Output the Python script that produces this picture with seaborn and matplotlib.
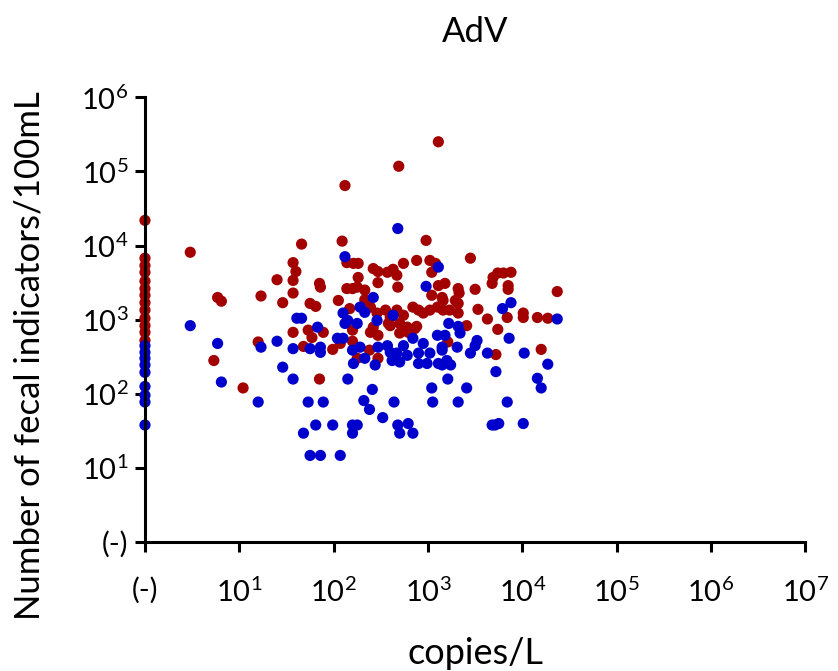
import numpy as np
import pandas as pd
import seaborn as sns
import matplotlib.pyplot as plt

# values are log10 of copies/L (x) and fecal indicators/100mL (y);
# 0 on either axis stands for "(-)" (not detected)

red_x = [0, 0, 0, 0, 0, 0, 0, 0, 0, 0, 0, 0, 0,
         3.11, 2.69, 2.12, 0.48, 0.77, 0.81, 1.23, 1.40, 1.46, 0.73, 1.04, 1.20,
         1.66, 2.09, 2.98, 1.57, 1.60, 1.57, 1.57, 1.85, 1.86, 1.75, 1.81, 2.05,
         2.14, 2.21, 2.26, 2.26, 2.14, 2.20, 2.25, 2.33, 2.33, 2.17, 2.42, 2.47,
         2.57, 2.63, 2.67, 2.74, 2.47, 2.68, 2.88, 3.02, 3.08, 3.04, 3.11, 3.18,
         3.04, 3.15, 2.39, 2.46, 2.55, 2.60, 2.67, 2.74, 2.84, 2.90, 2.95, 3.02,
         3.10, 3.16, 2.42, 2.60, 2.78, 2.88, 1.57, 1.73, 1.77, 1.89, 1.68, 1.99,
         2.07, 2.20, 2.20, 2.25, 2.39, 2.47, 2.38, 2.47, 2.58, 2.70, 2.70, 2.79,
         2.86, 1.85, 3.21, 3.45, 3.69, 3.74, 3.80, 3.88, 3.68, 3.85, 3.85, 4.37,
         3.50, 3.32, 3.33, 3.16, 3.29, 3.32, 3.23, 3.32, 3.53, 3.63, 3.84, 4.01,
         4.01, 4.16, 4.27, 3.41, 3.74, 3.72, 4.20]
red_y = [4.34, 3.83, 3.73, 3.64, 3.52, 3.42, 3.33, 3.23, 3.13, 3.02, 2.92, 2.83, 2.72,
         5.40, 5.07, 4.81, 3.91, 3.30, 3.25, 3.32, 3.54, 3.23, 2.45, 2.08, 2.70,
         4.02, 4.06, 4.07, 3.77, 3.65, 3.53, 3.36, 3.49, 3.44, 3.22, 3.18, 3.26,
         3.77, 3.76, 3.76, 3.57, 3.42, 3.42, 3.44, 3.40, 3.27, 3.15, 3.69, 3.65,
         3.64, 3.68, 3.60, 3.76, 3.50, 3.44, 3.80, 3.80, 3.76, 3.64, 3.46, 3.49,
         3.33, 3.30, 3.17, 3.09, 3.13, 3.03, 3.13, 3.06, 3.17, 3.13, 3.09, 3.13,
         3.17, 3.13, 2.90, 2.92, 2.90, 2.91, 2.83, 2.86, 2.76, 2.83, 2.64, 2.60,
         2.68, 2.86, 2.71, 2.48, 2.83, 2.79, 2.59, 2.48, 2.95, 2.95, 2.82, 2.83,
         2.88, 2.20, 2.70, 3.83, 3.57, 3.63, 3.63, 3.64, 3.49, 3.46, 3.41, 3.38,
         3.41, 3.42, 3.36, 3.26, 3.26, 3.22, 3.13, 3.09, 3.14, 3.01, 3.03, 3.09,
         3.03, 3.03, 3.02, 2.92, 2.87, 2.53, 2.60]

blue_x = [0, 0, 0, 0, 0, 0, 0, 0, 0,
          2.68, 0.48, 0.77, 0.81, 1.23, 1.20, 1.40, 1.46, 2.12, 3.11, 2.98, 2.42,
          1.61, 1.66, 2.10, 2.15, 2.25, 2.28, 2.33, 1.83, 2.46, 2.63, 1.57, 1.75,
          1.86, 1.86, 2.04, 2.10, 2.12, 2.20, 2.28, 2.21, 2.33, 1.57, 2.15, 2.41,
          2.47, 2.57, 2.60, 2.67, 2.44, 2.62, 2.70, 2.74, 2.84, 2.95, 3.10, 2.78,
          2.90, 3.02, 3.15, 2.90, 2.99, 3.11, 3.20, 3.21, 3.04, 3.05, 1.73, 1.89,
          2.32, 2.38, 2.52, 2.64, 1.68, 1.81, 1.99, 2.20, 2.25, 2.20, 2.68, 2.79,
          2.70, 2.84, 1.75, 1.86, 2.07, 3.88, 3.79, 4.37, 3.22, 3.32, 3.34, 3.18,
          3.15, 3.31, 3.52, 3.50, 3.45, 3.63, 3.86, 4.02, 3.15, 3.24, 3.41, 3.72,
          4.27, 4.16, 4.20, 3.32, 3.84, 3.68, 3.71, 3.75, 4.01]
blue_y = [2.65, 2.56, 2.48, 2.39, 2.29, 2.10, 1.98, 1.89, 1.58,
          4.23, 2.92, 2.68, 2.16, 2.63, 1.89, 2.71, 2.36, 3.85, 3.71, 3.45, 3.30,
          3.02, 3.02, 3.09, 2.99, 2.95, 3.17, 3.10, 2.90, 2.99, 3.06, 2.61, 2.61,
          2.63, 2.56, 2.75, 2.75, 2.95, 2.59, 2.63, 2.41, 2.48, 2.20, 2.20, 2.06,
          2.63, 2.65, 2.56, 2.55, 2.39, 2.45, 2.43, 2.65, 2.75, 2.68, 2.79, 2.52,
          2.55, 2.55, 2.63, 2.41, 2.41, 2.41, 2.45, 2.20, 2.08, 1.89, 1.89, 1.89,
          1.91, 1.79, 1.68, 1.89, 1.47, 1.58, 1.58, 1.58, 1.58, 1.47, 1.58, 1.60,
          1.47, 1.47, 1.17, 1.17, 1.17, 3.23, 3.15, 3.01, 2.95, 2.91, 2.82, 2.79,
          2.59, 2.63, 2.72, 2.65, 2.55, 2.55, 2.75, 2.55, 2.39, 2.39, 2.08, 2.30,
          2.40, 2.21, 2.08, 1.89, 1.89, 1.58, 1.58, 1.60, 1.60]

x_ticks = [0, 1, 2, 3, 4, 5, 6, 7]
y_ticks = [0, 1, 2, 3, 4, 5, 6]
x_labels = ["(-)"] + [r"$10^{%d}$" % i for i in x_ticks[1:]]
y_labels = ["(-)"] + [r"$10^{%d}$" % i for i in y_ticks[1:]]

df = pd.DataFrame({
    "x": red_x + blue_x,
    "y": red_y + blue_y,
    "group": ["red"] * len(red_x) + ["blue"] * len(blue_x),
})

sns.set_style("ticks")
plt.rcParams["font.family"] = ["Lato", "DejaVu Sans"]
plt.rcParams["mathtext.fontset"] = "custom"
plt.rcParams["mathtext.rm"] = "Lato"
plt.rcParams["text.color"] = "black"
plt.rcParams["axes.labelcolor"] = "black"
plt.rcParams["xtick.color"] = "black"
plt.rcParams["ytick.color"] = "black"

fig, ax = plt.subplots(figsize=(8.38, 6.71), dpi=100)
fig.subplots_adjust(left=0.173, right=0.961, bottom=0.192, top=0.855)

sns.scatterplot(data=df, x="x", y="y", hue="group",
                palette={"red": "#a30000", "blue": "#0000cc"},
                s=65, linewidth=0, clip_on=False, legend=False, ax=ax)

ax.set_xlim(0, 7)
ax.set_ylim(0, 6)
ax.set_xticks(x_ticks)
ax.set_xticklabels(x_labels, fontsize=21)
ax.set_yticks(y_ticks)
ax.set_yticklabels(y_labels, fontsize=21)
ax.tick_params(width=2.2, length=7, color="black", labelcolor="black")
ax.tick_params(axis="x", pad=18)
ax.tick_params(axis="y", pad=5)
for s in ["left", "bottom"]:
    ax.spines[s].set_linewidth(2.2)
    ax.spines[s].set_color("black")
sns.despine(ax=ax)

ax.set_xlabel("copies/L", fontsize=26, labelpad=22)
ax.set_ylabel("Number of fecal indicators/100mL", fontsize=25)
ax.yaxis.set_label_coords(-0.15, 0.42)
ax.set_title("AdV", fontsize=25, pad=40)

plt.savefig("out.png", dpi=100)
